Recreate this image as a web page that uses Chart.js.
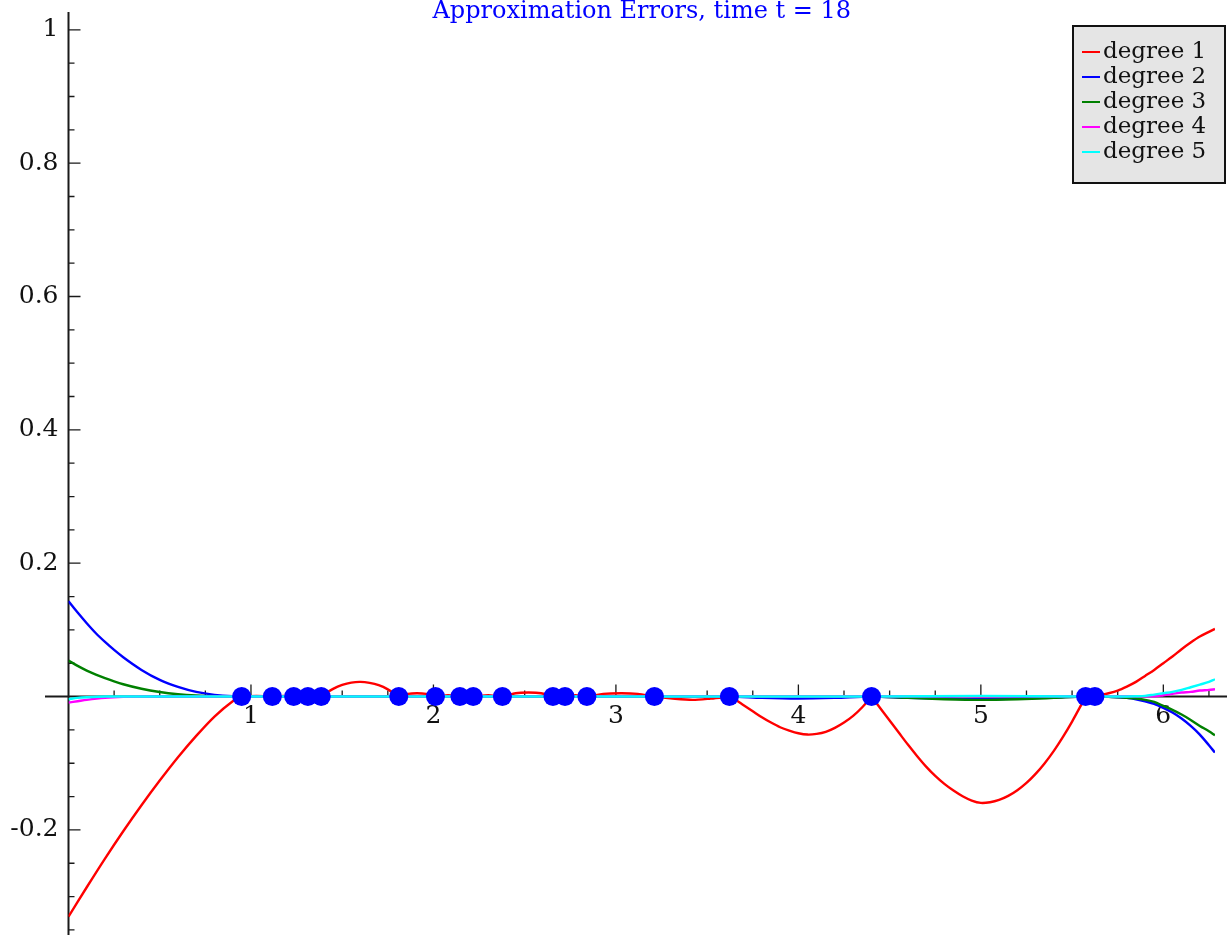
<!DOCTYPE html>
<html>
<head>
<meta charset="utf-8">
<title>Approximation Errors</title>
<script src="https://cdn.jsdelivr.net/npm/chart.js@4.4.1/dist/chart.umd.min.js"></script>
<style>
  html, body { margin: 0; padding: 0; background: #ffffff; }
  canvas { display: block; }
</style>
</head>
<body>
<canvas id="chart" width="1227" height="935"></canvas>
<script>
// ---- data -------------------------------------------------------------
const chartTitle = 'Approximation Errors, time t = 18';
const seriesLabels = ['degree 1', 'degree 2', 'degree 3', 'degree 4', 'degree 5'];
const seriesColors = ['#ff0000', '#0000ff', '#008000', '#ff00ff', '#00ffff'];

// axis ranges and tick labels
const xRange = [0, 2 * Math.PI];
const yRange = [-0.3576, 1.0267];
const xTickValues = [1, 2, 3, 4, 5, 6];
const xTickLabels = ['1', '2', '3', '4', '5', '6'];
const yTickValues = [-0.2, 0.2, 0.4, 0.6, 0.8, 1];
const yTickLabels = ['-0.2', '0.2', '0.4', '0.6', '0.8', '1'];

// sample nodes (marked on the x axis)
const nodeX = [0.949, 1.117, 1.234, 1.312, 1.385, 1.810, 2.011, 2.145, 2.218,
               2.378, 2.655, 2.721, 2.841, 3.211, 3.622, 4.401, 5.574, 5.625];

// degree 1 error (null = break in the curve at a node, where the slope jumps)
const deg1X = [0, 0.1, 0.2, 0.3, 0.4, 0.5, 0.6, 0.7, 0.8, 0.9, 0.949, 0.949, 0.949,
  1.03, 1.117, 1.18, 1.234, 1.312, 1.385, 1.385, 1.385,
  1.40, 1.45, 1.50, 1.55, 1.60, 1.65, 1.70, 1.75, 1.80, 1.810, 1.810, 1.810,
  1.86, 1.91, 1.96, 2.011, 2.08, 2.145, 2.18, 2.218, 2.30, 2.378,
  2.45, 2.52, 2.59, 2.655, 2.69, 2.721, 2.78, 2.841,
  2.93, 3.03, 3.12, 3.211, 3.31, 3.42, 3.52, 3.622, 3.622, 3.622,
  3.65, 3.70, 3.75, 3.80, 3.85, 3.90, 3.95, 4.00, 4.05, 4.10, 4.15, 4.20, 4.25, 4.30, 4.35, 4.401, 4.401, 4.401,
  4.45, 4.50, 4.55, 4.60, 4.65, 4.70, 4.75, 4.80, 4.85, 4.90, 4.95, 5.00, 5.05, 5.10, 5.15,
  5.20, 5.25, 5.30, 5.35, 5.40, 5.45, 5.50, 5.55, 5.574, 5.574, 5.574, 5.625, 5.625, 5.625,
  5.65, 5.70, 5.75, 5.80, 5.85, 5.90, 5.95, 6.00, 6.05, 6.10, 6.15, 6.20, 6.25, 6.283];
const deg1Y = [-0.330, -0.286, -0.243, -0.202, -0.163, -0.126, -0.091, -0.059, -0.030, -0.007, 0, null, 0,
  0.001, 0, 0.001, 0, 0, 0, null, 0,
  0.003, 0.0115, 0.0175, 0.021, 0.022, 0.0205, 0.017, 0.0108, 0.002, 0, null, 0,
  0.004, 0.005, 0.004, 0, 0.002, 0, 0.001, 0, 0.002, 0,
  0.005, 0.006, 0.005, 0, 0.001, 0, 0.002, 0,
  0.004, 0.005, 0.004, 0, -0.003, -0.005, -0.003, 0, null, 0,
  -0.004, -0.013, -0.022, -0.031, -0.039, -0.046, -0.051, -0.055, -0.057, -0.056, -0.053, -0.047, -0.039, -0.029, -0.016, 0, null, 0,
  -0.018, -0.036, -0.054, -0.072, -0.089, -0.105, -0.119, -0.131, -0.141, -0.1495, -0.156, -0.1595, -0.1585, -0.155, -0.149,
  -0.1405, -0.1295, -0.116, -0.100, -0.0815, -0.0605, -0.0375, -0.0125, 0, null, 0, 0, null, 0,
  0.002, 0.005, 0.009, 0.015, 0.022, 0.031, 0.040, 0.050, 0.060, 0.071, 0.081, 0.090, 0.097, 0.1015];

// degree 2 error
const deg2X = [0, 0.05, 0.1, 0.15, 0.2, 0.25, 0.3, 0.4, 0.5, 0.6, 0.7, 0.8, 0.9, 1.0,
  3.622, 3.8, 4.0, 4.2, 4.401, 4.6, 4.8, 5.0, 5.2, 5.4, 5.574,
  5.70, 5.75, 5.80, 5.85, 5.90, 5.95, 6.00, 6.05, 6.10, 6.15, 6.20, 6.25, 6.283];
const deg2Y = [0.143, 0.126, 0.110, 0.095, 0.082, 0.070, 0.059, 0.040, 0.025, 0.0145, 0.007, 0.0026, 0.0005, 0,
  0, -0.002, -0.003, -0.002, 0, -0.002, -0.003, -0.004, -0.003, -0.0015, 0,
  -0.0005, -0.001, -0.002, -0.004, -0.007, -0.011, -0.017, -0.024, -0.033, -0.044, -0.057, -0.073, -0.084];

// degree 3 error
const deg3X = [0, 0.05, 0.1, 0.15, 0.2, 0.25, 0.3, 0.4, 0.5, 0.6, 0.7, 0.8, 0.9, 1.0,
  4.401, 4.6, 4.8, 5.0, 5.2, 5.4, 5.574,
  5.70, 5.80, 5.85, 5.90, 5.95, 6.00, 6.05, 6.10, 6.15, 6.20, 6.25, 6.283];
const deg3Y = [0.054, 0.046, 0.039, 0.033, 0.0276, 0.0228, 0.0185, 0.0117, 0.0068, 0.0035, 0.0015, 0.0004, 0.0001, 0,
  0, -0.002, -0.004, -0.005, -0.004, -0.002, 0,
  -0.0005, -0.002, -0.003, -0.005, -0.008, -0.014, -0.020, -0.027, -0.035, -0.044, -0.052, -0.058];

// degree 4 error
const deg4X = [0, 0.05, 0.1, 0.2, 0.3, 0.4, 5.95, 6.00, 6.05, 6.10, 6.15, 6.20, 6.25, 6.283];
const deg4Y = [-0.009, -0.007, -0.005, -0.002, -0.0005, 0, 0.0005, 0.002, 0.004, 0.006, 0.007, 0.009, 0.010, 0.011];

// degree 5 error
const deg5X = [0, 0.05, 0.1, 0.2, 4.401, 5.0, 5.574, 5.85, 5.90, 5.95, 6.00, 6.05, 6.10, 6.15, 6.20, 6.25, 6.283];
const deg5Y = [-0.004, -0.002, -0.001, 0, 0, 0.001, 0, 0.0005, 0.001, 0.003, 0.005, 0.007, 0.010, 0.014, 0.018, 0.022, 0.026];

// ---- chart ------------------------------------------------------------
const FONT = "'DejaVu Serif', 'Liberation Serif', serif";

function zip(xs, ys) { return xs.map((x, i) => ({ x: x, y: ys[i] })); }

const curveX = [deg1X, deg2X, deg3X, deg4X, deg5X];
const curveY = [deg1Y, deg2Y, deg3Y, deg4Y, deg5Y];

const curveSets = seriesLabels.map((label, i) => ({
  label: label,
  data: zip(curveX[i], curveY[i]),
  borderColor: seriesColors[i],
  backgroundColor: seriesColors[i],
  borderWidth: 2.4,
  showLine: true,
  spanGaps: false,
  pointRadius: 0,
  // piecewise arcs of the degree-1 curve use a bezier spline, the rest stay monotone
  cubicInterpolationMode: i === 0 ? 'default' : 'monotone',
  tension: 0.3,
  order: 5 - i
}));

const nodeSet = {
  label: 'nodes',
  data: nodeX.map(x => ({ x: x, y: 0 })),
  showLine: false,
  pointRadius: 9.5,
  pointBackgroundColor: '#0000ff',
  pointBorderWidth: 0,
  order: 0
};

// axis lines with inward tick marks (major + minor)
const axesPlugin = {
  id: 'crossAxes',
  beforeDatasetsDraw(chart) {
    const ctx = chart.ctx;
    const xs = chart.scales.x, ys = chart.scales.y;
    const x0 = xs.getPixelForValue(0);
    const y0 = ys.getPixelForValue(0);
    ctx.save();
    ctx.strokeStyle = '#1a1a1a';
    ctx.lineWidth = 2;
    ctx.beginPath();
    ctx.moveTo(45, y0); ctx.lineTo(chart.width, y0);
    ctx.moveTo(x0, chart.chartArea.top); ctx.lineTo(x0, chart.height);
    ctx.stroke();

    ctx.lineWidth = 1.3;
    ctx.beginPath();
    // x ticks: minor every 0.25, major at integers
    for (let k = 1; k * 0.25 <= xRange[1]; k++) {
      const v = k * 0.25;
      const len = (k % 4 === 0) ? 12 : 6;
      const px = xs.getPixelForValue(v);
      ctx.moveTo(px, y0); ctx.lineTo(px, y0 - len);
    }
    // y ticks: minor every 0.05, major every 0.2
    for (let k = Math.ceil(yRange[0] / 0.05); k * 0.05 <= yRange[1]; k++) {
      if (k === 0) continue;
      const v = k * 0.05;
      const len = (k % 4 === 0) ? 12 : 6;
      const py = ys.getPixelForValue(v);
      ctx.moveTo(x0, py); ctx.lineTo(x0 + len, py);
    }
    ctx.stroke();
    ctx.restore();
  }
};

// title and boxed legend
const decorPlugin = {
  id: 'decor',
  afterDraw(chart) {
    const ctx = chart.ctx;
    const area = chart.chartArea;
    ctx.save();
    ctx.font = '24px ' + FONT;
    ctx.fillStyle = '#0000ff';
    ctx.textAlign = 'center';
    ctx.textBaseline = 'alphabetic';
    ctx.fillText(chartTitle, (area.left + area.right) / 2, 17.5);

    // legend box
    ctx.fillStyle = '#e5e5e5';
    ctx.fillRect(1073, 26, 152, 157);
    ctx.strokeStyle = '#111111';
    ctx.lineWidth = 2;
    ctx.strokeRect(1073, 26, 152, 157);

    ctx.font = '23px ' + FONT;
    ctx.textAlign = 'left';
    ctx.textBaseline = 'alphabetic';
    seriesLabels.forEach((label, i) => {
      const base = 57.5 + 25 * i;
      ctx.strokeStyle = seriesColors[i];
      ctx.lineWidth = 2;
      ctx.beginPath();
      ctx.moveTo(1082, base - 5.5);
      ctx.lineTo(1100, base - 5.5);
      ctx.stroke();
      ctx.fillStyle = '#111111';
      ctx.fillText(label, 1103, base);
    });
    ctx.restore();
  }
};

function noPadding(scale) {
  scale.paddingTop = 0; scale.paddingBottom = 0;
  scale.paddingLeft = 0; scale.paddingRight = 0;
}

new Chart(document.getElementById('chart'), {
  type: 'scatter',
  data: { datasets: [nodeSet].concat(curveSets) },
  options: {
    responsive: false,
    animation: false,
    events: [],
    layout: { autoPadding: false, padding: { top: 12, right: 12, bottom: 0, left: 0 } },
    plugins: {
      legend: { display: false },
      title: { display: false },
      tooltip: { enabled: false }
    },
    scales: {
      x: {
        type: 'linear',
        min: xRange[0],
        max: xRange[1],
        position: { y: 0 },
        grid: { display: false, drawTicks: false },
        border: { display: false },
        afterBuildTicks: s => { s.ticks = xTickValues.map(v => ({ value: v })); },
        afterFit: noPadding,
        ticks: {
          autoSkip: false,
          maxRotation: 0,
          padding: 5,
          color: '#111111',
          font: { family: FONT, size: 25 },
          callback: (v, i) => xTickLabels[i]
        }
      },
      y: {
        type: 'linear',
        min: yRange[0],
        max: yRange[1],
        position: 'left',
        grid: { display: false, drawTicks: false },
        border: { display: false },
        afterBuildTicks: s => { s.ticks = yTickValues.map(v => ({ value: v })); },
        afterFit: s => { s.width = 68.5; noPadding(s); },
        ticks: {
          autoSkip: false,
          padding: 10,
          color: '#111111',
          font: { family: FONT, size: 25 },
          callback: (v, i) => yTickLabels[i]
        }
      }
    }
  },
  plugins: [axesPlugin, decorPlugin]
});
</script>
</body>
</html>
